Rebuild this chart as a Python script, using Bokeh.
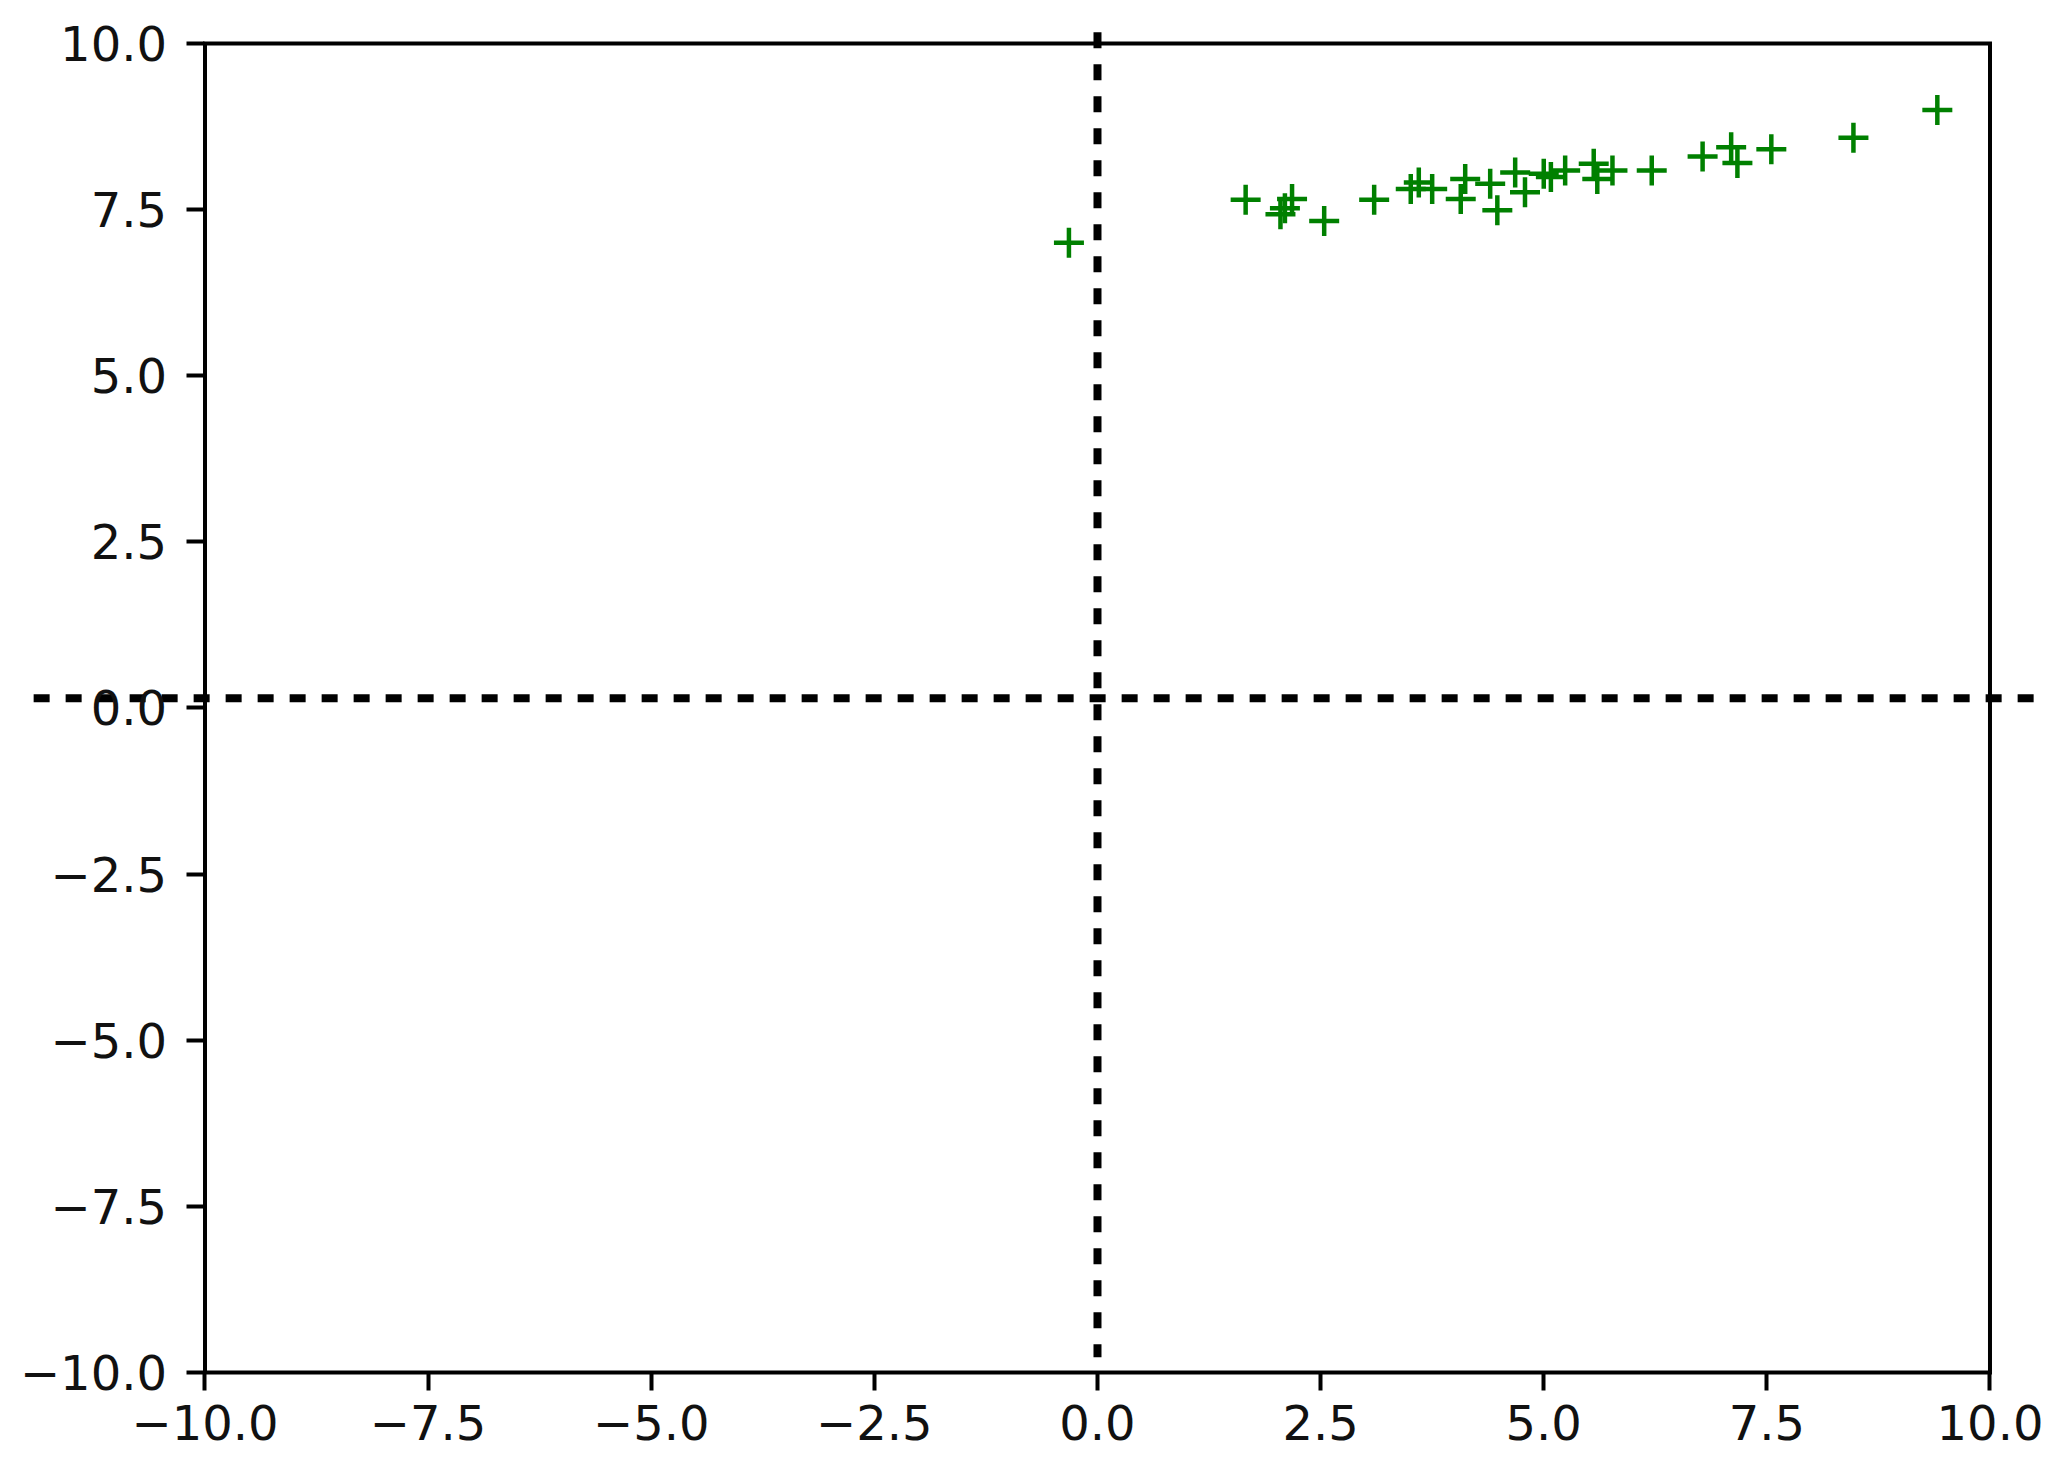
from bokeh.plotting import figure
from bokeh.models import Range1d, FixedTicker, CustomJSTickFormatter, ColumnDataSource
from bokeh.embed import file_html
from bokeh.resources import INLINE

# ---- data ----
pts_x = [-0.32, 1.66, 2.05, 2.10, 2.18, 2.54, 3.10, 3.51, 3.60, 3.75, 4.07, 4.12,
         4.40, 4.48, 4.68, 4.79, 5.00, 5.08, 5.24, 5.56, 5.60, 5.77, 6.21, 6.78,
         7.10, 7.17, 7.55, 8.47, 9.41]
pts_y = [7.00, 7.65, 7.43, 7.52, 7.66, 7.33, 7.65, 7.81, 7.91, 7.81, 7.66, 7.96,
         7.89, 7.49, 8.06, 7.76, 8.04, 7.99, 8.09, 8.19, 7.96, 8.09, 8.09, 8.30,
         8.44, 8.20, 8.41, 8.58, 9.00]

# dotted reference lines (they run past the axes box in the original)
vline_x = [0.0, 0.0]
vline_y = [10.17, -9.77]
hline_x = [-11.92, 10.8]
hline_y = [0.146, 0.146]

# axes box limits and ticks
XLIM = [-10.0, 10.0]
YLIM = [-10.0, 10.0]
TICKS = [-10.0, -7.5, -5.0, -2.5, 0.0, 2.5, 5.0, 7.5, 10.0]

# visible canvas extent (the frame is larger than the axes box)
X_VIEW = (-12.2913, 10.622)
Y_VIEW = (-11.249, 10.647)

p = figure(width=2045, height=1455,
           x_range=Range1d(*X_VIEW), y_range=Range1d(*Y_VIEW),
           output_backend="svg", toolbar_location=None, min_border=0)
p.outline_line_color = None
p.grid.visible = False
p.background_fill_color = "white"
p.border_fill_color = "white"

fmt = CustomJSTickFormatter(code="return tick.toFixed(1).replace('-', '\u2212');")
for ax, loc in ((p.xaxis[0], YLIM[0]), (p.yaxis[0], XLIM[0])):
    ax.fixed_location = loc
    ax.ticker = FixedTicker(ticks=TICKS)
    ax.formatter = fmt
    ax.axis_line_color = None
    ax.minor_tick_line_color = None
    ax.major_tick_in = 0
    ax.major_tick_out = 18
    ax.major_tick_line_width = 4
    ax.major_tick_line_color = "black"
    ax.major_label_text_font = "DejaVu Sans"
    ax.major_label_text_font_size = "48px"
    ax.major_label_text_color = "#111111"
p.xaxis[0].major_label_standoff = 14
p.yaxis[0].major_label_standoff = 20

# axes box
p.quad(left=[XLIM[0]], right=[XLIM[1]], bottom=[YLIM[0]], top=[YLIM[1]],
       fill_color=None, line_color="black", line_width=4, line_join="miter")

# dotted lines
p.line(vline_x, vline_y, line_color="black", line_width=8, line_dash="16 16")
p.line(hline_x, hline_y, line_color="black", line_width=8, line_dash="16 16")

src = ColumnDataSource(dict(x=pts_x, y=pts_y))
p.scatter("x", "y", source=src, marker="cross", size=30,
          line_color="#008000", line_width=4.5)

open("out.html", "w").write(file_html(p, INLINE))
